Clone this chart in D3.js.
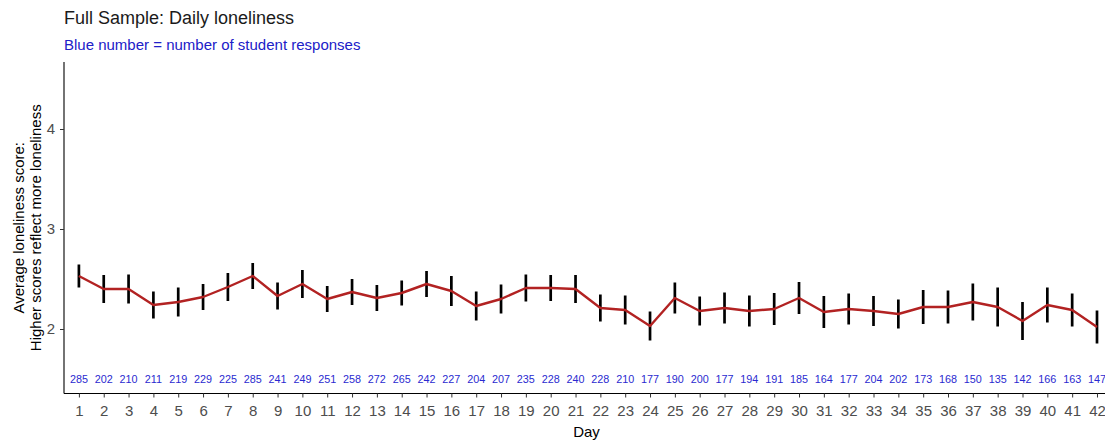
<!DOCTYPE html>
<html>
<head>
<meta charset="utf-8">
<script src="https://cdn.jsdelivr.net/npm/d3@7"></script>
<style>
  html, body { margin: 0; padding: 0; background: #fff; }
  svg { display: block; font-family: "Liberation Sans", Arial, sans-serif; }
</style>
</head>
<body>
<svg id="chart" width="1105" height="442"></svg>
<script>
const days = d3.range(1, 43);
const meanScore = [2.53, 2.40, 2.40, 2.24, 2.27, 2.32, 2.42, 2.53, 2.33, 2.45,
                   2.30, 2.37, 2.31, 2.36, 2.45, 2.38, 2.23, 2.30, 2.41, 2.41,
                   2.40, 2.21, 2.19, 2.03, 2.31, 2.18, 2.21, 2.18, 2.20, 2.31,
                   2.17, 2.20, 2.18, 2.15, 2.22, 2.22, 2.27, 2.22, 2.08, 2.24,
                   2.19, 2.02];
const errHalf = [0.115, 0.14, 0.145, 0.135, 0.145, 0.13, 0.14, 0.13, 0.135, 0.14,
                 0.13, 0.13, 0.13, 0.125, 0.13, 0.15, 0.145, 0.145, 0.135, 0.13,
                 0.14, 0.135, 0.145, 0.145, 0.155, 0.145, 0.155, 0.155, 0.16, 0.16,
                 0.16, 0.155, 0.15, 0.145, 0.17, 0.165, 0.185, 0.195, 0.19, 0.175,
                 0.165, 0.165];
const responses = [285, 202, 210, 211, 219, 229, 225, 285, 241, 249,
                   251, 258, 272, 265, 242, 227, 204, 207, 235, 228,
                   240, 228, 210, 177, 190, 200, 177, 194, 191, 185,
                   164, 177, 204, 202, 173, 168, 150, 135, 142, 166,
                   163, 147];
const yTicks = [2, 3, 4];
const labelLevel = 1.5;

const data = days.map((d, i) => ({day: d, mean: meanScore[i], half: errHalf[i], n: responses[i]}));

const svg = d3.select("#chart");
const mLeft = 64, mTop = 62, mBottom = 393.5;
const step = (1097 - 79) / 41;
const mRight = 79 + 41.6 * step;

const x = d3.scaleLinear().domain([0.4, 42.6]).range([mLeft, mRight]);
const y = d3.scaleLinear().domain([1.35, 4.65]).range([394, 64]);

// error bars
svg.append("g").selectAll("line").data(data).join("line")
  .attr("x1", d => x(d.day)).attr("x2", d => x(d.day))
  .attr("y1", d => y(d.mean - d.half)).attr("y2", d => y(d.mean + d.half))
  .attr("stroke", "#000").attr("stroke-width", 2.7);

// line
svg.append("path").datum(data)
  .attr("d", d3.line().x(d => x(d.day)).y(d => y(d.mean)))
  .attr("fill", "none").attr("stroke", "#b22222").attr("stroke-width", 2.4)
  .attr("stroke-linejoin", "round");

// response counts
svg.append("g").selectAll("text").data(data).join("text")
  .attr("x", d => x(d.day)).attr("y", y(labelLevel))
  .attr("dy", "0.35em").attr("text-anchor", "middle")
  .attr("font-size", 10.8).attr("fill", "#2a2ad0")
  .text(d => d.n);

// axes
const yAxis = svg.append("g").attr("transform", `translate(${mLeft},0)`)
  .call(d3.axisLeft(y).tickValues(yTicks).tickSize(4).tickPadding(5).tickFormat(d3.format("d")));
const xAxis = svg.append("g").attr("transform", `translate(0,${mBottom})`)
  .call(d3.axisBottom(x).tickValues(days).tickSize(4).tickPadding(7.5).tickFormat(d3.format("d")));
[yAxis, xAxis].forEach(g => {
  g.select(".domain").attr("stroke", "#000").attr("stroke-width", 1.1);
  g.selectAll(".tick line").attr("stroke", "#333");
  g.selectAll(".tick text").attr("fill", "#4d4d4d").attr("font-size", 15)
    .attr("font-family", "Liberation Sans, Arial, sans-serif");
});
yAxis.select(".domain").attr("d", `M0,${mTop}V${mBottom}`);
xAxis.select(".domain").attr("d", `M${mLeft},0H${mRight}`);

// titles
svg.append("text").attr("x", 64).attr("y", 24).attr("font-size", 18).attr("fill", "#1a1a1a")
  .text("Full Sample: Daily loneliness");
svg.append("text").attr("x", 64).attr("y", 49.5).attr("font-size", 15).attr("fill", "#2020c8")
  .text("Blue number = number of student responses");
svg.append("text").attr("x", (mLeft + 1105) / 2 + 2).attr("y", 436.5).attr("text-anchor", "middle")
  .attr("font-size", 15).attr("fill", "#000").text("Day");
const yl = svg.append("text").attr("transform", `translate(23.5,${(mTop + mBottom) / 2}) rotate(-90)`)
  .attr("text-anchor", "middle").attr("font-size", 15).attr("fill", "#000");
yl.append("tspan").attr("x", 0).attr("dy", 0).text("Average loneliness score:");
yl.append("tspan").attr("x", 0).attr("dy", 17).text("Higher scores reflect more loneliness");
</script>
</body>
</html>
